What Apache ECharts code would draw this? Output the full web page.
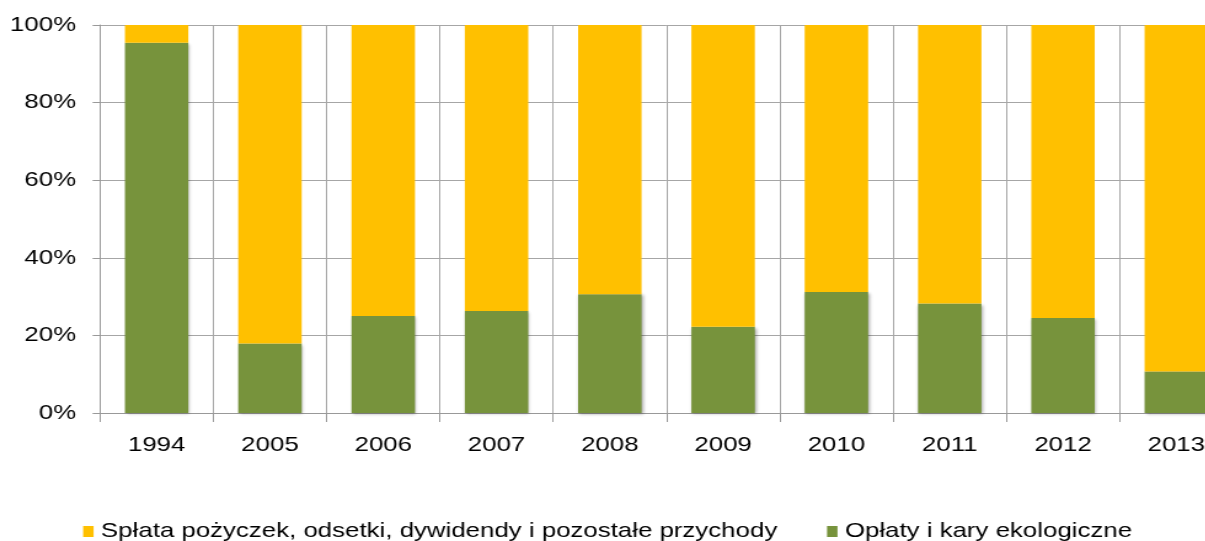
<!DOCTYPE html>
<html><head><meta charset="utf-8">
<script src="https://cdn.jsdelivr.net/npm/echarts@6/dist/echarts.min.js"></script>
<style>
html,body{margin:0;padding:0;background:#fff;overflow:hidden;width:1205px;height:541px}
#wrap{width:1205px;height:541px;overflow:hidden;position:relative}
#c{width:1008px;height:541px;transform:scaleX(1.23);transform-origin:0 0;position:absolute;left:0;top:0}
</style>
</head><body><div id="wrap"><div id="c"></div></div>
<script>
const categories = ['1994','2005','2006','2007','2008','2009','2010','2011','2012','2013'];
const oplaty = [95.4, 17.9, 25.0, 26.3, 30.6, 22.2, 31.2, 28.2, 24.5, 10.7];
const splata = [4.6, 82.1, 75.0, 73.7, 69.4, 77.8, 68.8, 71.8, 75.5, 89.3];
const seriesNames = ['Spłata pożyczek, odsetki, dywidendy i pozostałe przychody', 'Opłaty i kary ekologiczne'];
const yTicks = [0, 20, 40, 60, 80, 100];

const chart = echarts.init(document.getElementById('c'), null, {renderer: 'canvas'});
const font = 'Liberation Sans, Arial, sans-serif';
const shadow = {shadowColor: 'rgba(0,0,0,0.35)', shadowBlur: 3, shadowOffsetX: 1, shadowOffsetY: 1};
chart.setOption({
  animation: false,
  grid: {left: 81.3, top: 25, width: 921.1, height: 388, containLabel: false},
  legend: {
    data: [seriesNames[0], seriesNames[1]],
    left: 62.6, top: 516,
    itemWidth: 8.5, itemHeight: 11, itemGap: 40.5,
    icon: 'rect',
    textStyle: {fontFamily: font, fontSize: 21, color: '#000', padding: [0,0,0,1]}
  },
  xAxis: {
    type: 'category', data: categories,
    axisLine: {show: true, lineStyle: {color: '#999', width: 1}},
    axisTick: {show: true, length: 9, lineStyle: {color: '#999'}},
    splitLine: {show: true, lineStyle: {color: '#a6a6a6', width: 1}},
    axisLabel: {fontFamily: font, fontSize: 21, color: '#000', margin: 22}
  },
  yAxis: {
    type: 'value', min: yTicks[0], max: yTicks[yTicks.length-1], interval: 20,
    axisLine: {show: true, lineStyle: {color: '#999'}},
    axisTick: {show: true, length: 6, lineStyle: {color: '#999'}},
    splitLine: {show: true, lineStyle: {color: '#a6a6a6', width: 1}},
    axisLabel: {fontFamily: font, fontSize: 21, color: '#000', margin: 19.5, formatter: '{value}%'}
  },
  series: [
    {name: seriesNames[1], type: 'bar', stack: 's', data: oplaty, barWidth: '56%',
     itemStyle: Object.assign({color: '#77933C'}, shadow)},
    {name: seriesNames[0], type: 'bar', stack: 's', data: splata, barWidth: '56%',
     itemStyle: {color: '#FFC000'}}
  ]
});
</script></body></html>
